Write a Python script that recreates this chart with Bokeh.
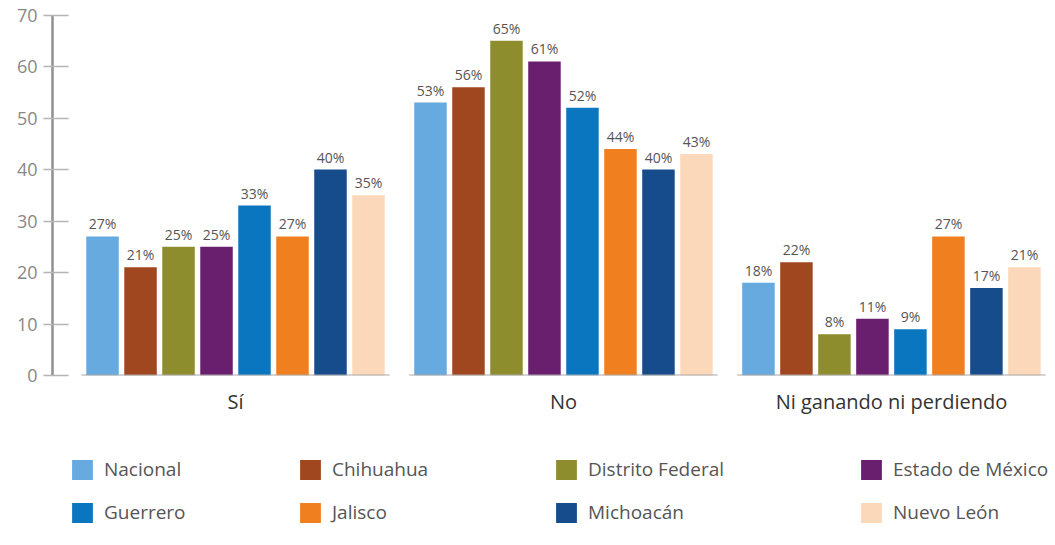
from bokeh.plotting import figure
from bokeh.models import Range1d, FixedTicker, Legend, LegendItem, ColumnDataSource
from bokeh.layouts import column
from bokeh.embed import file_html
from bokeh.resources import INLINE
from bokeh.core.properties import value

# ---- data ----
groups = ["Sí", "No", "Ni ganando ni perdiendo"]
series = ["Nacional", "Chihuahua", "Distrito Federal", "Estado de México",
          "Guerrero", "Jalisco", "Michoacán", "Nuevo León"]
nacional = [27, 53, 18]
chihuahua = [21, 56, 22]
distrito_federal = [25, 65, 8]
estado_de_mexico = [25, 61, 11]
guerrero = [33, 52, 9]
jalisco = [27, 44, 27]
michoacan = [40, 40, 17]
nuevo_leon = [35, 43, 21]
colors = ["#66AAE0", "#A0471F", "#8E8D2E", "#6A1E6E",
          "#0B76C0", "#F07F1F", "#164B8C", "#FCD8BA"]
y_ticks = [0, 10, 20, 30, 40, 50, 60, 70]

values = [nacional, chihuahua, distrito_federal, estado_de_mexico,
          guerrero, jalisco, michoacan, nuevo_leon]

FONT = "Open Sans"
W = 1055

p = figure(width=W, height=433, output_backend="svg", toolbar_location=None,
           x_range=Range1d(-0.558, 2.485), y_range=Range1d(0, 70.5),
           min_border_left=52, min_border_right=5, min_border_top=12,
           min_border_bottom=58)
p.outline_line_color = None
p.xgrid.visible = False
p.ygrid.visible = False
p.background_fill_color = "white"
p.border_fill_color = "white"

n = len(series)
pitch = 38.0 / 328.0
bw = 32.5 / 328.0
gidx = list(range(len(groups)))

for i, (name, vals, col) in enumerate(zip(series, values, colors)):
    off = (i - (n - 1) / 2) * pitch
    src = ColumnDataSource(dict(x=[g + off for g in gidx], top=vals,
                                lab=[f"{v}%" for v in vals]))
    p.vbar(x="x", top="top", width=bw, source=src, fill_color=col,
           line_color=None)
    p.text(x="x", y="top", text="lab", source=src, text_align="center",
           text_baseline="bottom", y_offset=-3, text_font=value(FONT),
           text_font_size="14px", text_color="#555555")

# group baselines
p.segment(x0=[g - 0.47 for g in gidx], x1=[g + 0.47 for g in gidx],
          y0=[0] * len(gidx), y1=[0] * len(gidx), line_color="#A8A8A8",
          line_width=2)

# x axis
xa = p.xaxis[0]
xa.ticker = FixedTicker(ticks=gidx)
xa.major_label_overrides = {g: groups[g] for g in gidx}
xa.axis_line_color = None
xa.major_tick_line_color = None
xa.minor_tick_line_color = None
xa.major_tick_out = 0
xa.major_tick_in = 0
xa.major_label_standoff = 12
xa.major_label_text_font = FONT
xa.major_label_text_font_size = "20px"
xa.major_label_text_color = "#333333"

# y axis
ya = p.yaxis[0]
ya.ticker = FixedTicker(ticks=y_ticks)
ya.bounds = (0, 70)
ya.axis_line_color = "#909090"
ya.axis_line_width = 2.5
ya.major_tick_line_color = "#B5B5B5"
ya.major_tick_line_width = 1.5
ya.major_tick_out = 9
ya.major_tick_in = 16
ya.minor_tick_line_color = None
ya.major_label_standoff = 6
ya.major_label_text_font = FONT
ya.major_label_text_font_size = "18px"
ya.major_label_text_color = "#888888"

# legend panel
p2 = figure(width=W, height=112, output_backend="svg", toolbar_location=None,
            x_range=Range1d(0, 1), y_range=Range1d(0, 1),
            min_border=0)
p2.axis.visible = False
p2.grid.visible = False
p2.outline_line_color = None
p2.background_fill_color = "white"
p2.border_fill_color = "white"

dummy = []
for name, col in zip(series, colors):
    dummy.append(p2.vbar(x=[0.5], top=[0], bottom=[0], width=0.0,
                         fill_color=col, line_color=None))

col_x = [17, 245, 501, 806]
for c in range(4):
    items = [LegendItem(label=series[c], renderers=[dummy[c]]),
             LegendItem(label=series[c + 4], renderers=[dummy[c + 4]])]
    lg = Legend(items=items, location=(col_x[c], 20), orientation="vertical",
                glyph_width=26, glyph_height=25, label_standoff=9, spacing=17,
                padding=0, margin=0, border_line_color=None,
                background_fill_alpha=0, label_text_font=FONT,
                label_text_font_size="19px", label_text_color="#555555",
                label_height=25)
    p2.add_layout(lg, "center")

layout = column(p, p2, spacing=0)
open("out.html", "w").write(file_html(layout, INLINE))
